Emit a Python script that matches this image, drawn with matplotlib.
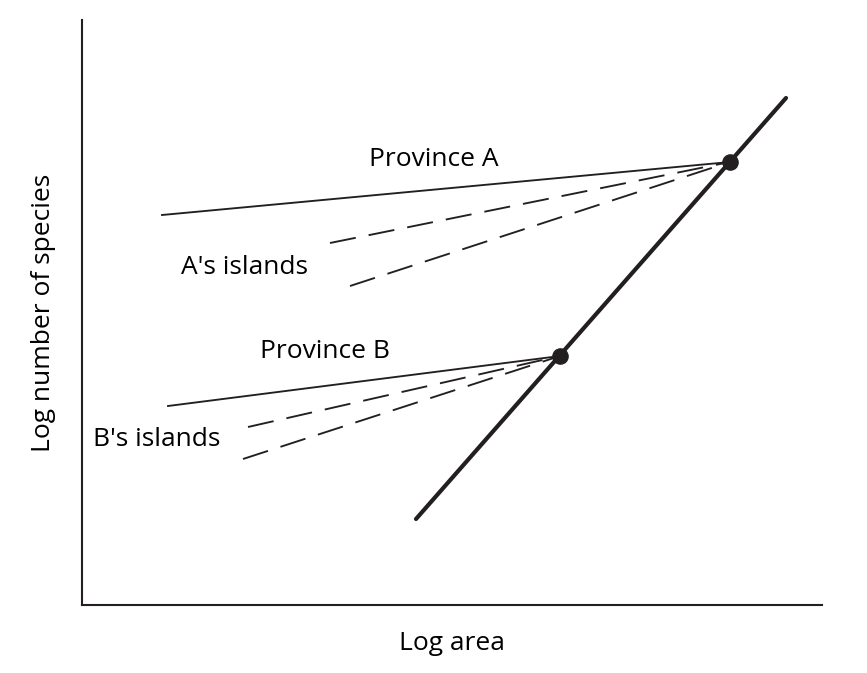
"""
Species-area curves: provinces vs their islands (log-log sketch)
"""

import matplotlib.pyplot as plt

plt.rcParams['font.family'] = ['Open Sans', 'DejaVu Sans']

# main (interprovincial) line
main_x = [334, 704]
main_y = [86, 507]

# province points on the main line
prov_x = [648, 478]
prov_y = [443, 249]

# province A: solid curve and two island curves
prov_a_x = [80, 648]
prov_a_y = [390, 443]
isl_a1_x = [248, 648]
isl_a1_y = [362, 443]
isl_a2_x = [268, 648]
isl_a2_y = [319, 443]

# province B
prov_b_x = [86, 478]
prov_b_y = [199, 249]
isl_b1_x = [166, 478]
isl_b1_y = [178, 249]
isl_b2_x = [161, 478]
isl_b2_y = [146, 249]

fig = plt.figure(figsize=(8.67, 6.73), dpi=100)
ax = fig.add_axes([82 / 867, (673 - 605) / 673, 740 / 867, 585 / 673])
ax.set_xlim(0, 740)
ax.set_ylim(0, 585)

dash = (0, (14, 7))
ax.plot(main_x, main_y, color='#231f20', lw=3.0, solid_capstyle='round')
ax.plot(prov_a_x, prov_a_y, color='#231f20', lw=1.35)
ax.plot(isl_a1_x, isl_a1_y, color='#231f20', lw=1.35, linestyle=dash)
ax.plot(isl_a2_x, isl_a2_y, color='#231f20', lw=1.35, linestyle=dash)
ax.plot(prov_b_x, prov_b_y, color='#231f20', lw=1.35)
ax.plot(isl_b1_x, isl_b1_y, color='#231f20', lw=1.35, linestyle=dash)
ax.plot(isl_b2_x, isl_b2_y, color='#231f20', lw=1.35, linestyle=dash)
ax.scatter(prov_x, prov_y, s=120, color='#231f20', zorder=5)

fs = 19
ax.text(352, 445, 'Province A', fontsize=fs, ha='center', va='center')
ax.text(162, 338, "A's islands", fontsize=fs, ha='center', va='center')
ax.text(243, 253, 'Province B', fontsize=fs, ha='center', va='center')
ax.text(75, 165, "B's islands", fontsize=fs, ha='center', va='center')

ax.set_xlabel('Log area', fontsize=fs, labelpad=19)
ax.set_ylabel('Log number of species', fontsize=fs, labelpad=19)

for side in ['top', 'right']:
    ax.spines[side].set_visible(False)
for side in ['left', 'bottom']:
    ax.spines[side].set_linewidth(1.5)
    ax.spines[side].set_color('#231f20')
ax.set_xticks([])
ax.set_yticks([])

plt.savefig('out.png', dpi=100)
